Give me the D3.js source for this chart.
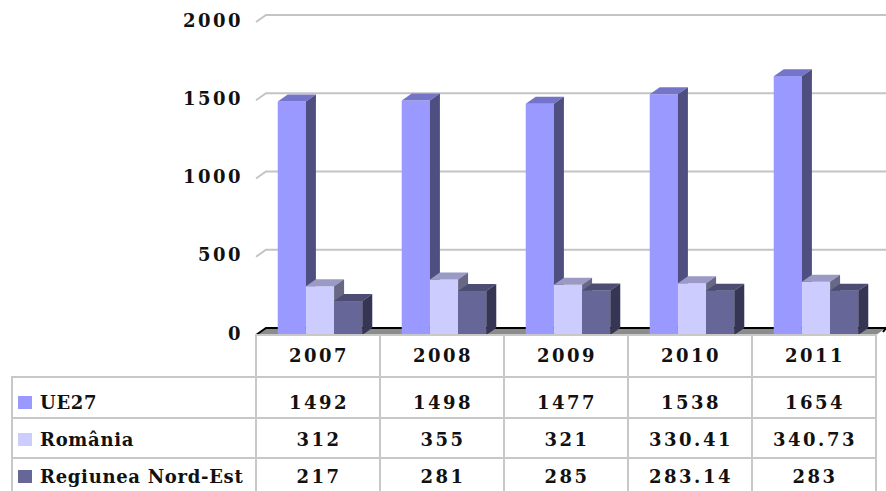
<!DOCTYPE html>
<html>
<head>
<meta charset="utf-8">
<script src="https://cdn.jsdelivr.net/npm/d3@7"></script>
<style>
  body { margin: 0; background: #fff; }
  text { font-family: "DejaVu Serif", serif; font-weight: bold; fill: #111; }
</style>
</head>
<body>
<script>
var years = ["2007", "2008", "2009", "2010", "2011"];
var seriesNames = ["UE27", "România", "Regiunea Nord-Est"];
var ue27 = [1492, 1498, 1477, 1538, 1654];
var romania = [312, 355, 321, 330.41, 340.73];
var nordEst = [217, 281, 285, 283.14, 283];
var yTicks = [0, 500, 1000, 1500, 2000];

var seriesValues = [ue27, romania, nordEst];
var colors = [
  {front: "#9999ff", top: "#7474c8", side: "#4e4e80"},
  {front: "#ccccff", top: "#9a9ac4", side: "#686886"},
  {front: "#666699", top: "#4d4d74", side: "#363654"}
];

var width = 886, height = 491;
var dx = 10, dy = -7;
var left = 256, right = 876;

var svg = d3.select("body").append("svg")
    .attr("width", width)
    .attr("height", height);

var y = d3.scaleLinear().domain([0, 2000]).range([335, 22]);
var x0 = d3.scaleBand().domain(years).range([left, right]);
var x1 = d3.scaleBand().domain(seriesNames).range([0, x0.bandwidth()]).paddingOuter(0.7);

// gridlines on the back wall + side wall
var grid = svg.append("g");
yTicks.filter(function(d){ return d > 0; }).forEach(function(t){
  grid.append("path")
    .attr("d", "M" + left + "," + y(t) + "L" + (left + dx) + "," + (y(t) + dy) + "L" + width + "," + (y(t) + dy))
    .attr("fill", "none")
    .attr("stroke", "#c4c4c4")
    .attr("stroke-width", 2);
});

// y labels
svg.append("g").selectAll("text")
  .data(yTicks)
  .enter().append("text")
  .attr("x", 243)
  .attr("y", function(d){ return y(d) - 2; })
  .attr("text-anchor", "end")
  .attr("dominant-baseline", "central")
  .style("font-size", "18px")
  .style("letter-spacing", "2.5px")
  .text(function(d){ return d; });

// floor
var base = y(0);
svg.append("path")
  .attr("d", "M" + left + "," + base + "L" + (left + dx) + "," + (base + dy) + "L" + (right + dx) + "," + (base + dy) + "L" + right + "," + base + "Z")
  .attr("fill", "#8c8c8c");
svg.append("path")
  .attr("d", "M" + left + "," + base + "L" + (left + dx) + "," + (base + dy) + "L" + (right + dx) + "," + (base + dy) + "L" + (right + 7) + "," + (base - 3))
  .attr("fill", "none")
  .attr("stroke", "#000")
  .attr("stroke-width", 2);

// bars
var bars = svg.append("g");
years.forEach(function(yr, i){
  seriesNames.forEach(function(s, j){
    var v = seriesValues[j][i];
    var bx = x0(yr) + x1(s) + 2, w = x1.bandwidth(), top = y(v);
    var c = colors[j];
    bars.append("rect")
      .attr("x", bx).attr("y", top)
      .attr("width", w).attr("height", base - top)
      .attr("fill", c.front);
    bars.append("path")
      .attr("d", "M" + bx + "," + top + "L" + (bx + dx) + "," + (top + dy) + "L" + (bx + w + dx) + "," + (top + dy) + "L" + (bx + w) + "," + top + "Z")
      .attr("fill", c.top);
    bars.append("path")
      .attr("d", "M" + (bx + w) + "," + top + "L" + (bx + w + dx) + "," + (top + dy) + "L" + (bx + w + dx) + "," + (base + dy) + "L" + (bx + w) + "," + base + "Z")
      .attr("fill", c.side);
  });
});

// data table
var rowEdges = [335, 377, 418, 458, 500];
var rowText = [355, 402, 439, 476];
var tbl = svg.append("g");
var gridColor = "#c8c8c8";

// header row
tbl.append("rect")
  .attr("x", left).attr("y", rowEdges[0])
  .attr("width", right - left).attr("height", rowEdges[4] - rowEdges[0])
  .attr("fill", "none").attr("stroke", gridColor).attr("stroke-width", 2);
tbl.append("rect")
  .attr("x", 12).attr("y", rowEdges[1])
  .attr("width", right - 12).attr("height", rowEdges[4] - rowEdges[1])
  .attr("fill", "none").attr("stroke", gridColor).attr("stroke-width", 2);
[2, 3].forEach(function(k){
  tbl.append("line")
    .attr("x1", 12).attr("x2", right)
    .attr("y1", rowEdges[k]).attr("y2", rowEdges[k])
    .attr("stroke", gridColor).attr("stroke-width", 2);
});
years.forEach(function(yr, i){
  if (i === 0) return;
  tbl.append("line")
    .attr("x1", x0(yr)).attr("x2", x0(yr))
    .attr("y1", rowEdges[0]).attr("y2", rowEdges[4])
    .attr("stroke", gridColor).attr("stroke-width", 2);
});

tbl.selectAll(".hdr")
  .data(years)
  .enter().append("text")
  .attr("x", function(d){ return x0(d) + x0.bandwidth() / 2 + 1; })
  .attr("y", rowText[0])
  .attr("text-anchor", "middle")
  .attr("dominant-baseline", "central")
  .style("font-size", "18px")
  .style("letter-spacing", "2.5px")
  .text(function(d){ return d; });

seriesNames.forEach(function(s, j){
  var ty = rowText[j + 1];
  tbl.append("rect")
    .attr("x", 18).attr("y", ty - 6)
    .attr("width", 14).attr("height", 13)
    .attr("fill", colors[j].front);
  tbl.append("text")
    .attr("x", 40).attr("y", ty)
    .attr("dominant-baseline", "central")
    .style("font-size", "18px")
    .style("letter-spacing", "0.7px")
    .text(s);
  seriesValues[j].forEach(function(v, i){
    tbl.append("text")
      .attr("x", x0(years[i]) + x0.bandwidth() / 2 + 1)
      .attr("y", ty)
      .attr("text-anchor", "middle")
      .attr("dominant-baseline", "central")
      .style("font-size", "18px")
      .style("letter-spacing", "2.5px")
      .text(v);
  });
});
</script>
</body>
</html>
